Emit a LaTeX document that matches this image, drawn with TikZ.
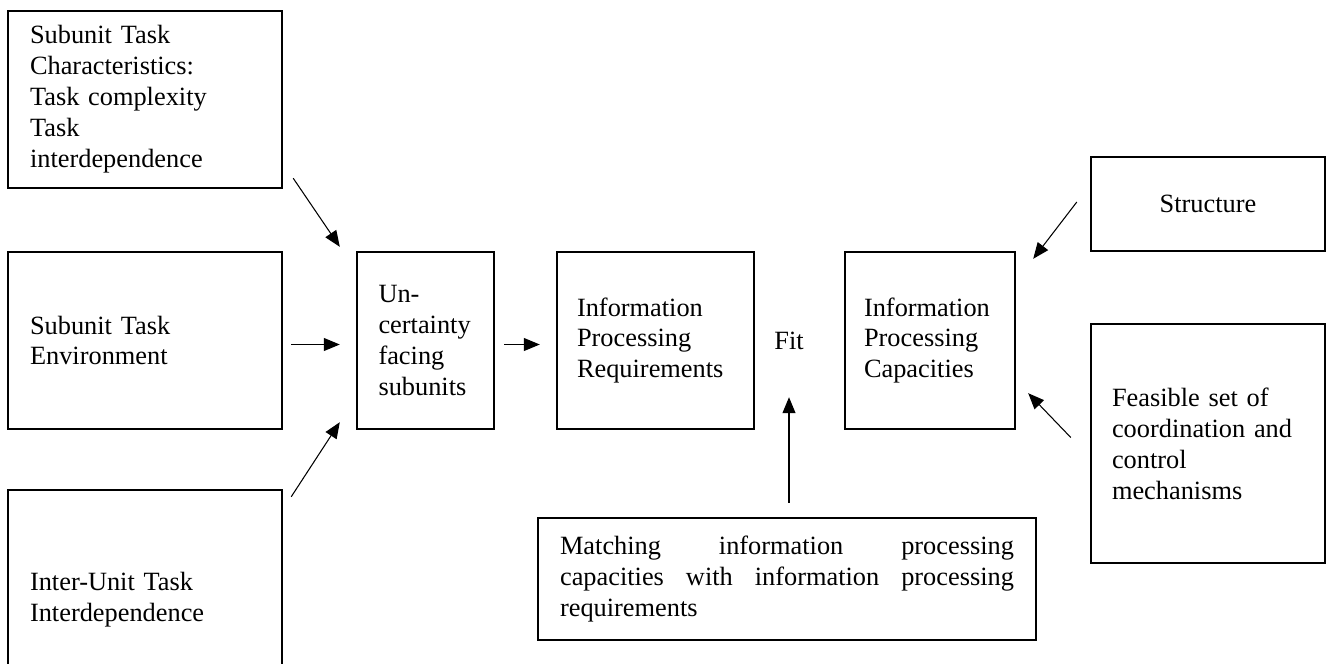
\documentclass[tikz,border=0pt]{standalone}
\usepackage{fontspec}
\setmainfont{Liberation Serif}
\usetikzlibrary{arrows.meta}
\newcommand{\boxfont}{\fontsize{15pt}{17.6pt}\selectfont}

\begin{document}
\begin{tikzpicture}[x=0.02cm, y=-0.02cm, >={Triangle[length=0.32cm, width=0.26cm]},
	box/.style={draw, line width=1.4pt, inner sep=0pt, align=left, font=\boxfont},
	link/.style={->, line width=0.6pt}]
	\path[use as bounding box, clip] (0,0) rectangle (1332,663);

	\node[box, minimum width=5.48cm, minimum height=3.54cm, text width=4.6cm] (taskchar) at (145,99.5)
		{Subunit Task\\Characteristics:\\Task complexity\\Task\\interdependence};
	\node[box, minimum width=5.48cm, minimum height=3.54cm, text width=4.6cm] (taskenv) at (145,340.5)
		{Subunit Task\\Environment};
	\node[box, minimum width=5.48cm, minimum height=4.4cm, text width=4.6cm] (interunit) at (145,600)
		{Inter-Unit Task\\Interdependence};
	\node[box, minimum width=2.74cm, minimum height=3.54cm, text width=1.88cm] (uncert) at (425.5,340.5)
		{Un-\\certainty\\facing\\subunits};
	\node[box, minimum width=3.94cm, minimum height=3.54cm, text width=3.14cm] (ipreq) at (655.5,340.5)
		{Information\\Processing\\Requirements};
	\node[font=\boxfont, inner sep=0pt] (fit) at (789,341) {Fit};
	\node[box, minimum width=3.4cm, minimum height=3.54cm, text width=2.64cm] (ipcap) at (930,340.5)
		{Information\\Processing\\Capacities};
	\node[box, align=center, minimum width=4.68cm, minimum height=1.88cm] (structure) at (1208,204)
		{Structure};
	\node[box, minimum width=4.68cm, minimum height=4.78cm, text width=3.84cm] (mech) at (1208,443.5)
		{Feasible set of\\coordination and\\control\\mechanisms};
	\node[box, align=justify, minimum width=9.96cm, minimum height=2.44cm, text width=9.08cm] (matching) at (787,579)
		{Matching information processing\linebreak capacities with information processing\linebreak requirements};

	\draw[link] ([shift={(10,-11)}]taskchar.south east) -- ([shift={(-16,-4)}]uncert.north west);
	\draw[link] ([shift={(8,4)}]taskenv.east) -- ([shift={(-16,4)}]uncert.west);
	\draw[link] ([shift={(8,8)}]interunit.north east) -- ([shift={(-16,-8)}]uncert.south west);
	\draw[link] ([shift={(9,4)}]uncert.east) -- ([shift={(-16,4)}]ipreq.west);
	\draw[link] ([shift={(2,-14)}]matching.north) -- ([shift={(0,47)}]fit.south);
	\draw[link] ([shift={(-13,-2)}]structure.west) -- ([shift={(17,8)}]ipcap.north east);
	\draw[link] ([shift={(-19,-6)}]mech.west) -- ([shift={(12,-37)}]ipcap.south east);
\end{tikzpicture}
\end{document}
